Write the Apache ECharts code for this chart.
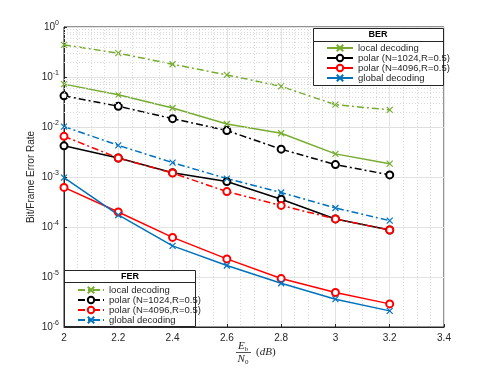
<!DOCTYPE html>
<html>
<head>
<meta charset="utf-8">
<script src="https://cdn.jsdelivr.net/npm/echarts@6/dist/echarts.min.js"></script>
<style>
  html, body { margin: 0; padding: 0; background: #fff; }
  #chart { width: 491px; height: 368px; }
</style>
</head>
<body>
<div id="chart"></div>
<script>
// Eb/N0 points (dB)
var snr = [2, 2.2, 2.4, 2.6, 2.8, 3.0, 3.2];

// bit error rate (solid lines)
var localBer = [0.072, 0.044, 0.024, 0.0115, 0.0075, 0.0029, 0.00185];
var polar1024Ber = [0.0042, 0.0024, 0.00122, 0.00081, 0.00036, 0.000145, 0.000087];
var polar4096Ber = [0.00062, 0.0002, 0.000062, 0.000023, 0.0000093, 0.0000049, 0.0000029];
var globalBer = [0.00097, 0.000174, 0.000042, 0.000017, 0.0000075, 0.0000036, 0.0000021];

// frame error rate (dash-dot lines)
var localFer = [0.44, 0.3, 0.18, 0.11, 0.065, 0.028, 0.022];
var polar1024Fer = [0.042, 0.026, 0.0147, 0.0085, 0.0036, 0.00177, 0.0011];
var polar4096Fer = [0.0065, 0.0024, 0.0012, 0.00051, 0.00027, 0.000145, 0.000087];
var globalFer = [0.0102, 0.0043, 0.00194, 0.00093, 0.00049, 0.00024, 0.000134];

var names = ['local decoding', 'polar (N=1024,R=0.5)', 'polar (N=4096,R=0.5)', 'global decoding'];
var colors = ['#77AC30', '#000000', '#FF0000', '#0072BD'];
var marks = ['x', 'o', 'o', 'x'];

var chart = echarts.init(document.getElementById('chart'));

var crossPath = 'path://M0,0L10,10M10,0L0,10';
var FER_TAG = '\u200b';

function pairs(vals) {
  return snr.map(function (x, i) { return [x, vals[i]]; });
}

// dotted minor grid for the log axis (2..9 of each decade)
var minorY = [];
for (var e = -6; e < 0; e++) {
  for (var k = 2; k <= 9; k++) minorY.push({ yAxis: k * Math.pow(10, e) });
}

function makeSeries(name, vals, color, mk, dashed) {
  return {
    name: name,
    type: 'line',
    data: pairs(vals),
    symbol: mk === 'x' ? crossPath : 'emptyCircle',
    symbolSize: mk === 'x' ? 6 : 7,
    showSymbol: true,
    lineStyle: { color: color, width: 1.5, type: dashed ? [7, 3, 2, 3] : 'solid' },
    itemStyle: mk === 'x'
      ? { color: 'rgba(0,0,0,0)', borderColor: color, borderWidth: 1.2 }
      : { color: color, borderColor: color, borderWidth: 1.2 },
    animation: false,
    z: 3
  };
}

var berData = [localBer, polar1024Ber, polar4096Ber, globalBer];
var ferData = [localFer, polar1024Fer, polar4096Fer, globalFer];
var series = [];
for (var i = 0; i < 4; i++) series.push(makeSeries(names[i], berData[i], colors[i], marks[i], false));
for (var j = 0; j < 4; j++) series.push(makeSeries(names[j] + FER_TAG, ferData[j], colors[j], marks[j], true));

// holder for the minor grid lines
series.push({
  type: 'line',
  data: [],
  silent: true,
  animation: false,
  z: 1,
  markLine: {
    silent: true,
    symbol: 'none',
    label: { show: false },
    lineStyle: { type: [1, 2], color: '#d9d9d9', width: 1 },
    animation: false,
    data: minorY
  }
});

var font = 'Liberation Sans';
var legendText = { fontFamily: font, fontSize: 9.5, color: '#262626', lineHeight: 10 };

var option = {
  backgroundColor: '#fff',
  grid: { left: 64, top: 27, right: 47, bottom: 41, show: true, borderColor: '#262626', borderWidth: 1 },
  xAxis: {
    type: 'value', min: 2, max: 3.4, interval: 0.2,
    axisLine: { lineStyle: { color: '#262626' } },
    axisTick: { inside: true, length: 3, lineStyle: { color: '#262626' } },
    axisLabel: { fontFamily: font, fontSize: 10, color: '#262626', margin: 6 },
    splitLine: { lineStyle: { color: '#e3e3e3' } },
    minorTick: { show: false, splitNumber: 4 },
    minorSplitLine: { show: true, lineStyle: { type: [1, 2], color: '#d9d9d9' } }
  },
  yAxis: {
    type: 'log', logBase: 10, min: 1e-6, max: 1, interval: 1,
    axisLine: { lineStyle: { color: '#262626' } },
    axisTick: { inside: true, length: 3, lineStyle: { color: '#262626' } },
    axisLabel: {
      fontFamily: font, fontSize: 10, color: '#262626', margin: 5,
      formatter: function (v) {
        var ex = Math.round(Math.log10(v));
        return '{b|10}{e|' + ex + '}';
      },
      rich: {
        b: { fontFamily: font, fontSize: 10, color: '#262626' },
        e: { fontFamily: font, fontSize: 7, color: '#262626', padding: [0, 0, 7, 0] }
      }
    },
    splitLine: { lineStyle: { color: '#e3e3e3' } },
    name: 'Bit/Frame Error Rate',
    nameLocation: 'middle',
    nameGap: 28,
    nameMoveOverlap: false,
    nameTextStyle: { fontFamily: font, fontSize: 10, color: '#262626' }
  },
  legend: [
    {
      data: names,
      orient: 'vertical',
      left: 326, top: 43,
      padding: 0,
      itemWidth: 26, itemHeight: 8, itemGap: 0,
      textStyle: legendText,
      selectedMode: false,
      z: 20
    },
    {
      data: names.map(function (n) { return n + FER_TAG; }),
      orient: 'vertical',
      left: 77, top: 285,
      padding: 0,
      itemWidth: 26, itemHeight: 8, itemGap: 0,
      textStyle: legendText,
      formatter: function (n) { return n.replace(FER_TAG, ''); },
      selectedMode: false,
      z: 20
    }
  ],
  graphic: [
    // BER legend box
    { type: 'rect', shape: { x: 313.5, y: 28.5, width: 130, height: 57 }, style: { fill: '#fff', stroke: '#262626', lineWidth: 1 }, z: 10 },
    { type: 'line', shape: { x1: 313.5, y1: 41.5, x2: 443.5, y2: 41.5 }, style: { stroke: '#262626', lineWidth: 1 }, z: 11 },
    { type: 'text', x: 378, y: 35, style: { text: 'BER', fontFamily: font, fontWeight: 'bold', fontSize: 9, fill: '#000', align: 'center', verticalAlign: 'middle' }, z: 11 },
    // FER legend box
    { type: 'rect', shape: { x: 64.5, y: 270.5, width: 131, height: 56 }, style: { fill: '#fff', stroke: '#262626', lineWidth: 1 }, z: 10 },
    { type: 'line', shape: { x1: 64.5, y1: 282.5, x2: 195.5, y2: 282.5 }, style: { stroke: '#262626', lineWidth: 1 }, z: 11 },
    { type: 'text', x: 130, y: 277, style: { text: 'FER', fontFamily: font, fontWeight: 'bold', fontSize: 9, fill: '#000', align: 'center', verticalAlign: 'middle' }, z: 11 },
    // x axis label Eb/N0 (dB)
    {
      type: 'text', x: 243, y: 346,
      style: {
        text: '{i|E}{s|b}', align: 'center', verticalAlign: 'middle',
        rich: {
          i: { fontFamily: 'Liberation Serif', fontStyle: 'italic', fontSize: 11, fill: '#262626' },
          s: { fontFamily: 'Liberation Serif', fontSize: 7, fill: '#262626', padding: [6, 0, 0, 0] }
        }
      }
    },
    { type: 'line', shape: { x1: 236, y1: 352.5, x2: 251, y2: 352.5 }, style: { stroke: '#262626', lineWidth: 0.8 } },
    {
      type: 'text', x: 243, y: 359,
      style: {
        text: '{i|N}{s|0}', align: 'center', verticalAlign: 'middle',
        rich: {
          i: { fontFamily: 'Liberation Serif', fontStyle: 'italic', fontSize: 11, fill: '#262626' },
          s: { fontFamily: 'Liberation Serif', fontSize: 7, fill: '#262626', padding: [6, 0, 0, 0] }
        }
      }
    },
    {
      type: 'text', x: 256, y: 352,
      style: {
        text: '({i|dB})', align: 'left', verticalAlign: 'middle',
        fontFamily: 'Liberation Serif', fontSize: 11, fill: '#262626',
        rich: { i: { fontFamily: 'Liberation Serif', fontStyle: 'italic', fontSize: 11, fill: '#262626' } }
      }
    }
  ],
  series: series
};

chart.setOption(option);
</script>
</body>
</html>
